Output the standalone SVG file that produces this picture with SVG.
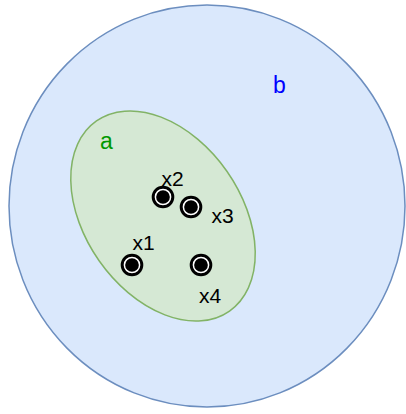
<svg xmlns="http://www.w3.org/2000/svg" width="406" height="414" viewBox="0 0 406 414">
<style>
.lbl{font-family:"Liberation Sans",Arial,sans-serif;font-size:21px;fill:#000}
.pt{fill:#000;stroke:#000;stroke-width:3}
.ring{fill:none;stroke:#fff;stroke-width:1.5}
</style>
<rect width="406" height="414" fill="#fff"/>
<g id="b">
<ellipse cx="207" cy="206" rx="198" ry="201" fill="#dae8fc" stroke="#6c8ebf" stroke-width="1.5"/>
<text x="273" y="92.5" style="font-family:'Liberation Sans',Arial,sans-serif;font-size:23px;fill:#0000ff">b</text>
</g>
<g id="a">
<ellipse cx="0" cy="0" rx="116" ry="78" transform="translate(163 216) rotate(55)" fill="#d5e8d4" stroke="#82b366" stroke-width="1.5"/>
<text x="100" y="148.5" style="font-family:'Liberation Sans',Arial,sans-serif;font-size:23px;fill:#009900">a</text>
</g>
<g id="connectors"/>
<g id="x1">
<circle class="pt" cx="132" cy="265" r="9.8"/><circle class="ring" cx="132" cy="265" r="7.6"/>
<text class="lbl" x="132.5" y="250">x1</text>
</g>
<g id="x2">
<circle class="pt" cx="163" cy="197" r="9.8"/><circle class="ring" cx="163" cy="197" r="7.6"/>
<text class="lbl" x="161.5" y="186">x2</text>
</g>
<g id="x3">
<circle class="pt" cx="191" cy="207" r="9.8"/><circle class="ring" cx="191" cy="207" r="7.6"/>
<text class="lbl" x="211.5" y="223">x3</text>
</g>
<g id="x4">
<circle class="pt" cx="201" cy="265" r="9.8"/><circle class="ring" cx="201" cy="265" r="7.6"/>
<text class="lbl" x="199" y="303">x4</text>
</g>
</svg>
